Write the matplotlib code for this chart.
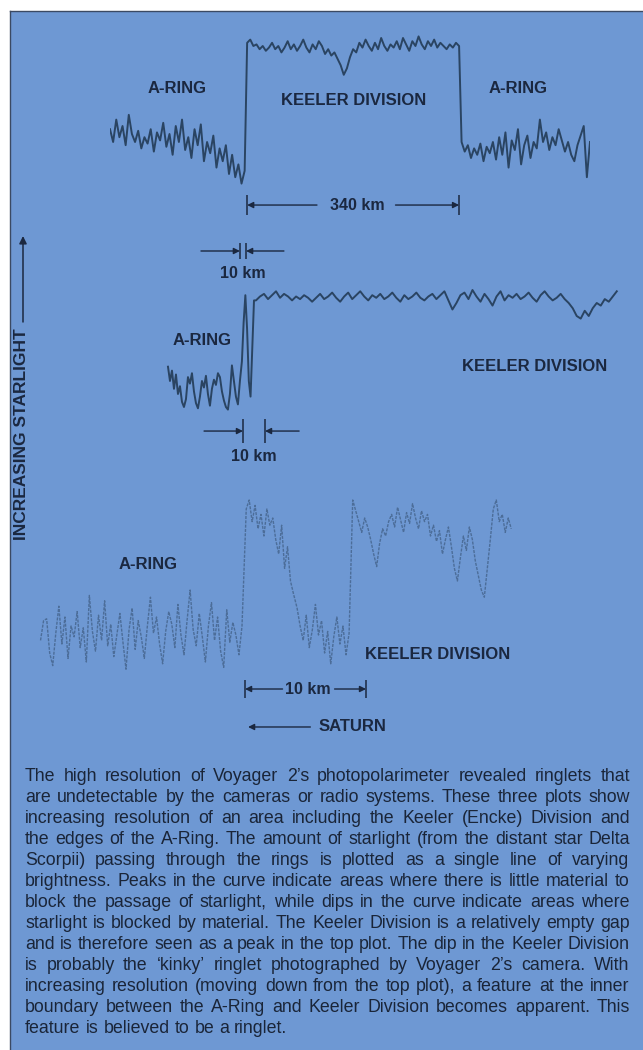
import numpy as np
import matplotlib
matplotlib.use("Agg")
import matplotlib.pyplot as plt
from matplotlib import font_manager
from matplotlib.patches import Rectangle, FancyArrowPatch
from matplotlib.lines import Line2D

W, H = 643, 1050
BLUE = "#6e98d3"
INK = "#1b2840"
TRACE = "#2a4462"
FAINT = "#46668f"

# ---- top plot: relative starlight vs km from the inner A-ring edge ----
top_ring_in_km = (-220, -4)
top_ring_in = [38, 30, 44, 33, 40, 28, 47, 35, 30, 37, 26, 33, 29, 38, 24, 36, 31, 42, 27, 35,
               22, 40, 30, 44, 25, 33, 20, 38, 28, 41, 18, 30, 23, 34, 14, 26, 18, 28, 10, 22,
               8, 16, 4, 12]
top_gap_km = (0, 340)
top_gap = [92, 94, 90, 91, 88, 90, 87, 89, 92, 88, 90, 86, 89, 93, 88, 91, 87, 90, 94, 89,
           86, 91, 88, 93, 90, 85, 88, 84, 86, 82, 78, 72, 76, 83, 88, 86, 92, 89, 94, 90,
           87, 92, 88, 95, 90, 87, 91, 89, 93, 88, 95, 91, 87, 93, 90, 96, 91, 88, 93, 90,
           94, 89, 92, 90, 88, 91, 89, 92, 90]
top_ring_out_km = (344, 550)
top_ring_out = [30, 24, 28, 20, 26, 22, 29, 18, 27, 23, 30, 19, 33, 22, 36, 14, 31, 25, 38, 16,
                28, 34, 20, 30, 26, 44, 30, 36, 25, 33, 28, 38, 31, 24, 30, 22, 18, 28, 34, 40,
                8, 30]
top_span_km = 340

# ---- middle plot ----
mid_ring_km = (-34.1, -1.4)
mid_ring = [41, 30, 38, 24, 35, 20, 26, 14, 10, 16, 33, 28, 36, 22, 13, 9, 18, 30, 25, 34,
            20, 11, 24, 31, 27, 36, 33, 22, 15, 10, 8, 20, 42, 30, 18, 12, 30]
mid_edge_km = (-0.5, 5.0)
mid_edge = [45, 75, 96, 70, 30, 18, 55, 92]
mid_gap_km = (5.9, 169.9)
mid_gap = [92, 95, 97, 93, 96, 99, 94, 97, 95, 92,
           95, 93, 96, 94, 91, 94, 97, 93, 95, 98,
           94, 91, 95, 98, 93, 96, 99, 95, 92, 96,
           94, 97, 93, 95, 98, 94, 91, 96, 93, 95,
           98, 94, 92, 95, 97, 93, 96, 99, 92, 85,
           90, 96, 98, 93, 100, 95, 91, 97, 93, 88,
           95, 99, 92, 96, 94, 97, 93, 95, 98, 94,
           91, 96, 99, 95, 92, 94, 97, 93, 90, 86,
           80, 78, 84, 80, 86, 90, 88, 93, 91, 95, 99]
mid_span_km = 10

# ---- bottom plot ----
bot_ring_km = (-16.9, -0.25)
bot_ring = [22, 33, 34, 15, 8, 26, 41, 20, 35, 12, 30, 24, 38, 18, 29, 10, 47, 27, 16, 36,
            22, 44, 19, 31, 13, 25, 37, 21, 6, 28, 40, 17, 33, 24, 12, 30, 46, 26, 35, 20,
            9, 27, 38, 31, 18, 42, 25, 14, 33, 50, 28, 19, 37, 24, 10, 30, 43, 22, 35, 16,
            7, 39, 21, 32, 25, 14, 30]
bot_peak_km = (0.1, 4.0)
bot_peak = [95, 100, 88, 97, 84, 92, 80, 95, 86, 90, 78, 70, 86, 62, 74, 55, 48]
bot_dip_km = (4.3, 8.6)
bot_dip = [40, 30, 22, 36, 18, 28, 42, 25, 33, 15, 27, 9, 24, 35, 20, 30, 14, 26]
bot_gap_km = (8.9, 22.0)
bot_gap = [100, 94, 88, 82, 90, 85, 78, 70, 63, 76, 84, 80, 88, 92, 85, 96, 89, 82, 93, 87,
           98, 90, 84, 94, 88, 92, 80, 86, 77, 83, 70, 78, 85, 74, 62, 55, 68, 80, 72, 85,
           78, 66, 58, 50, 46, 62, 78, 95, 100, 88, 92, 82, 90, 84]
bot_span_km = 10

caption = [
    "The high resolution of Voyager 2\u2019s photopolarimeter revealed ringlets that",
    "are undetectable by the cameras or radio systems. These three plots show",
    "increasing resolution of an area including the Keeler (Encke) Division and",
    "the edges of the A-Ring. The amount of starlight (from the distant star Delta",
    "Scorpii) passing through the rings is plotted as a single line of varying",
    "brightness. Peaks in the curve indicate areas where there is little material to",
    "block the passage of starlight, while dips in the curve indicate areas where",
    "starlight is blocked by material. The Keeler Division is a relatively empty gap",
    "and is therefore seen as a peak in the top plot. The dip in the Keeler Division",
    "is probably the \u2018kinky\u2019 ringlet photographed by Voyager 2\u2019s camera. With",
    "increasing resolution (moving down from the top plot), a feature at the inner",
    "boundary between the A-Ring and Keeler Division becomes apparent. This",
    "feature is believed to be a ringlet.",
]


def trace(segments):
    xs, ys = [], []
    for (a, b), vals in segments:
        xs.append(np.linspace(a, b, len(vals)))
        ys.append(np.asarray(vals, dtype=float))
    return np.concatenate(xs), np.concatenate(ys)


def px_axes(left, top, right, bottom, xlim, ylim):
    ax = fig.add_axes([left / W, 1 - bottom / H, (right - left) / W, (bottom - top) / H])
    ax.set_xlim(*xlim)
    ax.set_ylim(*ylim)
    ax.axis("off")
    return ax


def span_marker(ax, x0, x1, y, half, label_x, gap_left, gap_right, label, label_y=None):
    ax.vlines([x0, x1], y - half, y + half, color=INK, lw=1.1)
    arrow = dict(arrowstyle="-|>", color=INK, lw=1.0, mutation_scale=9, shrinkA=0, shrinkB=0)
    ax.annotate("", xy=(x0, y), xytext=(gap_left, y), arrowprops=arrow)
    ax.annotate("", xy=(x1, y), xytext=(gap_right, y), arrowprops=arrow)
    ax.text(label_x, y if label_y is None else label_y, label, ha="center", va="center",
            fontsize=11.5, fontweight="bold", color=INK)


lab = dict(fontsize=12, fontweight="bold", color=INK, ha="center", va="center")
plt.rcParams["font.family"] = ["Liberation Sans", "DejaVu Sans"]

fig = plt.figure(figsize=(W / 100, H / 100), dpi=100, facecolor="white")
fig.add_artist(Rectangle((10 / W, 0), 1, 1 - 11 / H, transform=fig.transFigure,
                         facecolor=BLUE, edgecolor="none", zorder=-5))
fig.add_artist(Line2D([10 / W, 1], [1 - 11 / H, 1 - 11 / H], transform=fig.transFigure,
                      color="#3b4a63", lw=1.0))
fig.add_artist(Line2D([10 / W, 10 / W], [0, 1 - 11 / H], transform=fig.transFigure,
                      color="#3b4a63", lw=1.0))

# top
ax1 = px_axes(110, 20, 590, 225, (-220, 550), (-21.875, 106.25))
x, y = trace([(top_ring_in_km, top_ring_in), (top_gap_km, top_gap), (top_ring_out_km, top_ring_out)])
ax1.plot(x, y, color=TRACE, lw=1.4)
ax1.text(-113, 63.5, "A-RING", **lab)
ax1.text(171, 56, "KEELER DIVISION", **lab)
ax1.text(434, 63.5, "A-RING", **lab)
span_marker(ax1, 0, top_span_km, -9.4, 6.0, 176, 112, 238, "340 km")

# middle
ax2 = px_axes(150, 230, 630, 470, (-42.27, 175.9), (-38.46, 146.15))
x, y = trace([(mid_ring_km, mid_ring), (mid_edge_km, mid_edge), (mid_gap_km, mid_gap)])
ax2.plot(x, y, color=TRACE, lw=1.4)
ax2.text(-18.6, 61.5, "A-RING", **lab)
ax2.text(132.7, 40.8, "KEELER DIVISION", **lab)
span_marker(ax2, -1.4, 1.4, 130, 6.0, 0, -19.1, 18.6, "10 km", label_y=113)
span_marker(ax2, 0, mid_span_km, -8.5, 9.0, 5, -17.7, 25.5, "10 km", label_y=-27.7)

# bottom
ax3 = px_axes(30, 480, 530, 740, (-17.77, 23.55), (-33.33, 111.11))
x, y = trace([(bot_ring_km, bot_ring), (bot_peak_km, bot_peak), (bot_dip_km, bot_dip),
              (bot_gap_km, bot_gap)])
ax3.plot(x, y, color=FAINT, lw=1.0, alpha=0.85, dashes=(2.2, 0.9))
ax3.text(-8.0, 64.4, "A-RING", **lab)
ax3.text(15.9, 13.9, "KEELER DIVISION", **lab)
span_marker(ax3, 0, bot_span_km, -5, 5.0, 5.2, 3.1, 7.4, "10 km")
ax3.annotate("", xy=(0.25, -26.1), xytext=(5.4, -26.1),
             arrowprops=dict(arrowstyle="-|>", color=INK, lw=1.0, mutation_scale=9,
                             shrinkA=0, shrinkB=0))
ax3.text(6.1, -26.1, "SATURN", fontsize=12, fontweight="bold", color=INK, ha="left", va="center")

# side label
fig.text(22 / W, 1 - 434 / H, "INCREASING STARLIGHT", rotation=90, ha="center", va="center",
         fontsize=12.5, fontweight="bold", color=INK)
fig.add_artist(FancyArrowPatch((23 / W, 1 - 322 / H), (23 / W, 1 - 236 / H),
                               transform=fig.transFigure, arrowstyle="-|>", color=INK,
                               lw=1.1, mutation_scale=11, shrinkA=0, shrinkB=0))

# caption, justified between x=25 and x=630
names = {f.name for f in font_manager.fontManager.ttflist}
cap_font = "Liberation Sans Narrow" if "Liberation Sans Narrow" in names else "Liberation Sans"
renderer = fig.canvas.get_renderer()


def width(s, size):
    t = fig.text(0, 0, s, fontsize=size, family=cap_font)
    w = t.get_window_extent(renderer).width
    t.remove()
    return w


left, right = 25, 630
space10 = width("a b", 10) - width("ab", 10)
words10 = [[width(wd, 10) for wd in line.split()] for line in caption]
natural = max(sum(ws) + space10 * (len(ws) - 1) for ws in words10)
size = 10 * (right - left) * 0.995 / natural
for i, line in enumerate(caption):
    words = line.split()
    ws = [w * size / 10 for w in words10[i]]
    if i < len(caption) - 1:
        gap = (right - left - sum(ws)) / (len(ws) - 1)
    else:
        gap = space10 * size / 10
    xpos = left
    ypx = 776.7 + 20.95 * i
    for wd, w in zip(words, ws):
        fig.text(xpos / W, 1 - ypx / H, wd, fontsize=size, family=cap_font, color="#1a2538",
                 ha="left", va="center")
        xpos += w + gap

fig.savefig("out.png", dpi=100, facecolor="white")
